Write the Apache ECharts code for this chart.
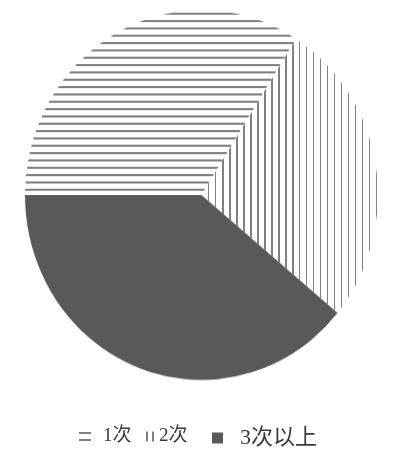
<!DOCTYPE html>
<html>
<head>
<meta charset="utf-8">
<script src="https://cdn.jsdelivr.net/npm/echarts@6/dist/echarts.min.js"></script>
<style>
html,body{margin:0;padding:0;background:#fff;}
#wrap{position:relative;width:400px;height:454px;overflow:hidden;}
#pie{position:absolute;left:0;top:0;width:400px;height:454px;transform:scaleY(1.048);transform-origin:200px 195px;}
#leg{position:absolute;left:0;top:0;width:400px;height:454px;}
</style>
</head>
<body>
<div id="wrap"><div id="pie"></div><div id="leg"></div></div>
<script>
var categories = ['1次', '2次', '3次以上'];
var values = [34, 27, 39];

var lineColor = '#808080';
var darkColor = '#58595b';
var decals = [
  {symbol: 'rect', symbolSize: 1, dashArrayX: [1, 0], dashArrayY: [2, 5], rotation: 0, color: lineColor},
  {symbol: 'rect', symbolSize: 1, dashArrayX: [1, 0], dashArrayY: [2, 5], rotation: Math.PI / 2, color: lineColor},
  null
];
var legendDecals = [
  decals[0],
  {symbol: 'rect', symbolSize: 1, dashArrayX: [1, 0], dashArrayY: [2, 4], rotation: Math.PI / 2, color: lineColor},
  null
];
var fills = ['#ffffff', '#ffffff', darkColor];

function buildData() {
  return categories.map(function (c, i) {
    var item = {name: c, value: values[i], itemStyle: {color: fills[i]}};
    if (decals[i]) item.itemStyle.decal = decals[i];
    return item;
  });
}

var pie = echarts.init(document.getElementById('pie'));
pie.setOption({
  animation: false,
  series: [{
    type: 'pie',
    center: [201.5, 195],
    radius: [0, 176.5],
    startAngle: 180,
    clockwise: true,
    label: {show: false},
    labelLine: {show: false},
    emphasis: {disabled: true},
    itemStyle: {borderWidth: 0},
    data: buildData()
  }]
});

var fontFam = '"Liberation Serif", "Noto Sans CJK SC", serif';
var legendLayout = [
  {left: 79, w: 12, h: 9, pad: 7, size: 19},
  {left: 142, w: 12, h: 10, pad: 0, size: 19},
  {left: 212, w: 11, h: 11, pad: 12, size: 22}
];
var legends = categories.map(function (c, i) {
  var L = legendLayout[i];
  var d = {name: c};
  if (legendDecals[i]) d.itemStyle = {color: fills[i], decal: legendDecals[i]};
  return {
    top: 427,
    left: L.left,
    padding: 0,
    itemWidth: L.w,
    itemHeight: L.h,
    icon: 'rect',
    selectedMode: false,
    textStyle: {fontSize: L.size, fontFamily: fontFam, color: '#3a3a3a', padding: [0, 0, 0, L.pad]},
    data: [d]
  };
});

var leg = echarts.init(document.getElementById('leg'));
leg.setOption({
  animation: false,
  legend: legends,
  series: [{
    type: 'pie',
    center: [-500, -500],
    radius: [0, 1],
    label: {show: false},
    labelLine: {show: false},
    silent: true,
    data: buildData()
  }]
});
</script>
</body>
</html>
